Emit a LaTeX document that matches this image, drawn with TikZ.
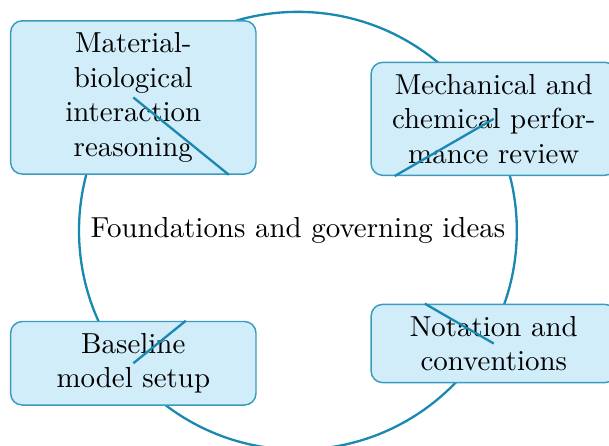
\documentclass[tikz,border=0pt]{standalone}
\usepackage{tikz}
\definecolor{ringblue}{RGB}{26,137,176}
\definecolor{boxfill}{RGB}{209,237,249}

\begin{document}
\begin{tikzpicture}[
	topic/.style={draw=ringblue!85,fill=boxfill,rounded corners=4pt,line width=0.5pt,
		text width=2.77cm,align=center,inner xsep=3pt,inner ysep=4pt},
	link/.style={draw=ringblue,line width=0.8pt}]
	\useasboundingbox (-3.62,-2.614) rectangle (3.78,2.804);
	\draw[link] (0,0) circle (2.66);
	%
	\node (hub) at (0,0) {Foundations and governing ideas};
	\node[topic] (mat) at (-2.00,1.62) {Material-biological interaction reasoning};
	\node[topic] (mech) at (2.38,1.36) {Mechanical and chemical performance review};
	\node[topic] (base) at (-2.00,-1.61) {Baseline model setup};
	\node[topic] (nota) at (2.38,-1.37) {Notation and conventions};
	%
	\draw[link] (mat.center) -- (mat.-39);
	\draw[link] (mech.center) -- (mech.210);
	\draw[link] (base.center) -- (base.39);
	\draw[link] (nota.center) -- (nota.150);
\end{tikzpicture}
\end{document}
